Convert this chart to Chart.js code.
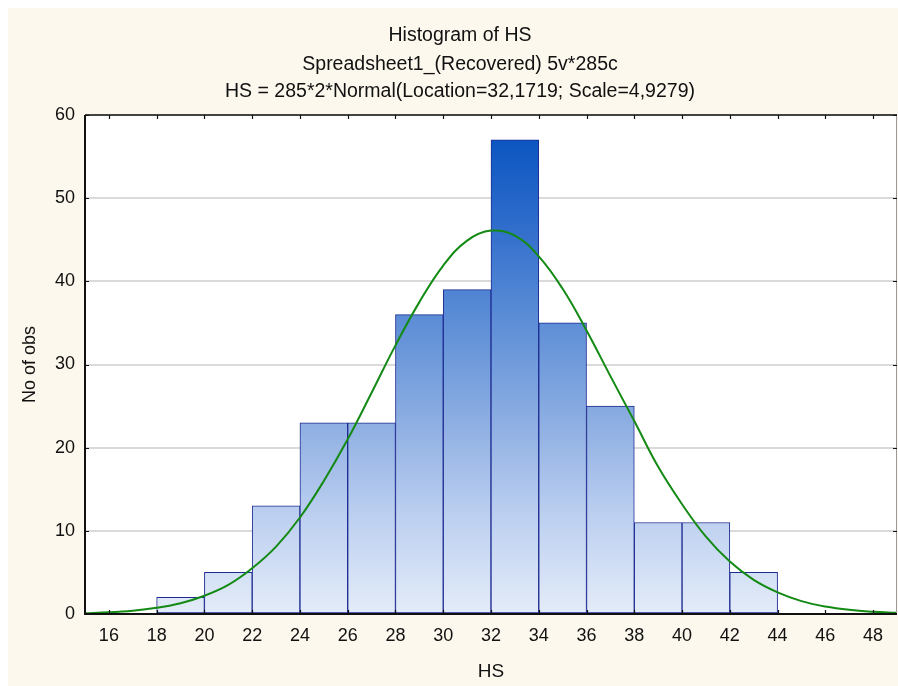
<!DOCTYPE html>
<html><head><meta charset="utf-8">
<script src="https://cdn.jsdelivr.net/npm/chart.js@4/dist/chart.umd.min.js"></script>
<style>html,body{margin:0;padding:0;background:#fff;}canvas{display:block}</style>
</head><body>
<canvas id="c" width="898" height="686"></canvas>
<script>
// ---- data ----
const titleLines = ['Histogram of HS', 'Spreadsheet1_(Recovered) 5v*285c', 'HS = 285*2*Normal(Location=32,1719; Scale=4,9279)'];
const xTitle = 'HS';
const yTitle = 'No of obs';
const binCenters = [19, 21, 23, 25, 27, 29, 31, 33, 35, 37, 39, 41, 43];
const binCounts  = [2, 5, 13, 23, 23, 36, 39, 57, 35, 25, 11, 11, 5];
const xTicks = [16, 18, 20, 22, 24, 26, 28, 30, 32, 34, 36, 38, 40, 42, 44, 46, 48];
const yTicks = [0, 10, 20, 30, 40, 50, 60];
const curveX = [15,16,17,18,19,20,21,22,23,24,25,26,27,28,29,30,31,32,33,34,35,36,37,38,39,40,41,42,43,44,45,46,47,48,49];
const curveY = [0.1,0.2,0.4,0.75,1.3,2.2,3.5,5.5,8.1,11.6,16.0,21.0,26.6,32.3,37.5,41.9,44.9,46.1,45.5,43.0,39.1,34.1,28.6,23.2,17.7,13.2,9.3,6.3,4.1,2.6,1.55,0.9,0.5,0.27,0.14];

const FONT = "'Liberation Sans', Arial, sans-serif";
Chart.defaults.font.family = FONT;
Chart.defaults.font.size = 18;
Chart.defaults.color = '#111';

const bgPlugin = {
  id: 'bg',
  beforeDraw(chart) {
    const {ctx, chartArea: a, width, height} = chart;
    ctx.save();
    ctx.fillStyle = '#ffffff';
    ctx.fillRect(0, 0, width, height);
    ctx.fillStyle = '#fdf8ed';
    ctx.fillRect(8, 8, width - 8, height - 8);
    ctx.fillStyle = '#ffffff';
    ctx.fillRect(a.left, a.top, a.right - a.left, a.bottom - a.top);
    ctx.restore();
  },
  afterDraw(chart) {
    const {ctx} = chart;
    ctx.save();
    ctx.fillStyle = '#111';
    ctx.font = '19.5px ' + FONT;
    ctx.textAlign = 'center';
    ctx.textBaseline = 'middle';
    const ys = [36, 65, 92];
    titleLines.forEach((t, i) => ctx.fillText(t, 460, ys[i]));
    ctx.restore();
  }
};

const framePlugin = {
  id: 'frame',
  afterDatasetsDraw(chart) {
    const {ctx, chartArea: a, scales} = chart;
    ctx.save();
    ctx.strokeStyle = '#9a9a9a';
    ctx.lineWidth = 1;
    ctx.beginPath(); ctx.moveTo(a.right - 0.5, a.top); ctx.lineTo(a.right - 0.5, a.bottom); ctx.stroke();
    ctx.strokeStyle = '#111';
    ctx.lineWidth = 1.5;
    ctx.beginPath(); ctx.moveTo(a.left, a.top); ctx.lineTo(a.right, a.top); ctx.stroke();
    ctx.lineWidth = 2;
    ctx.beginPath(); ctx.moveTo(a.left, a.top); ctx.lineTo(a.left, a.bottom); ctx.lineTo(a.right, a.bottom); ctx.stroke();
    ctx.lineWidth = 1.2;
    ctx.beginPath();
    xTicks.forEach(v => {
      const px = Math.round(scales.x.getPixelForValue(v)) + 0.5;
      ctx.moveTo(px, a.bottom); ctx.lineTo(px, a.bottom - 4);
      ctx.moveTo(px, a.top); ctx.lineTo(px, a.top + 4);
    });
    yTicks.forEach(v => {
      const py = Math.round(scales.y.getPixelForValue(v)) + 0.5;
      ctx.moveTo(a.left, py); ctx.lineTo(a.left + 4, py);
      ctx.moveTo(a.right, py); ctx.lineTo(a.right - 4, py);
    });
    ctx.stroke();
    ctx.restore();
  }
};

function barFill(context) {
  const chart = context.chart;
  const {chartArea, scales} = chart;
  if (!chartArea || !scales.y) return '#8aaee0';
  const y0 = scales.y.getPixelForValue(0);
  const y1 = scales.y.getPixelForValue(Math.max(...binCounts));
  const g = chart.ctx.createLinearGradient(0, y0, 0, y1);
  g.addColorStop(0, '#e4ecf8');
  g.addColorStop(0.21, '#bccff0');
  g.addColorStop(0.4, '#8eafe2');
  g.addColorStop(0.68, '#4f84d3');
  g.addColorStop(0.84, '#2b6aca');
  g.addColorStop(1, '#0c56c1');
  return g;
}

new Chart(document.getElementById('c'), {
  type: 'bar',
  data: {
    datasets: [
      {
        type: 'line',
        label: 'Normal',
        data: curveX.map((x, i) => ({x, y: curveY[i]})),
        borderColor: '#138a13',
        borderWidth: 2,
        pointRadius: 0,
        tension: 0.4,
        fill: false,
        order: 0
      },
      {
        type: 'bar',
        label: 'HS',
        data: binCenters.map((x, i) => ({x, y: binCounts[i]})),
        backgroundColor: barFill,
        borderColor: '#1d2b92',
        borderWidth: 1,
        borderSkipped: false,
        barPercentage: 1,
        categoryPercentage: 1,
        order: 1
      }
    ]
  },
  options: {
    responsive: false,
    animation: false,
    layout: {padding: {top: 115, right: 1, left: 0, bottom: 0}},
    plugins: {legend: {display: false}, tooltip: {enabled: false}, title: {display: false}},
    scales: {
      x: {
        type: 'linear',
        min: 15, max: 49,
        offset: false,
        grid: {display: false, drawTicks: false},
        border: {display: false},
        afterBuildTicks: s => { s.ticks = xTicks.map(v => ({value: v})); },
        ticks: {padding: 11, maxRotation: 0, autoSkip: false, font: {size: 18}},
        title: {display: true, text: xTitle, font: {size: 19}, padding: {top: 0, bottom: 3}},
        afterFit: s => { s.height = 72; }
      },
      y: {
        min: 0, max: 60,
        grid: {color: '#dadada', lineWidth: 2, drawTicks: false},
        border: {display: false},
        afterBuildTicks: s => { s.ticks = yTicks.map(v => ({value: v})); },
        ticks: {padding: 10, font: {size: 18}},
        title: {display: true, text: yTitle, font: {size: 18}, padding: {top: 19, bottom: 0}},
        afterFit: s => { s.width = 85; }
      }
    }
  },
  plugins: [bgPlugin, framePlugin]
});
</script>
</body></html>
